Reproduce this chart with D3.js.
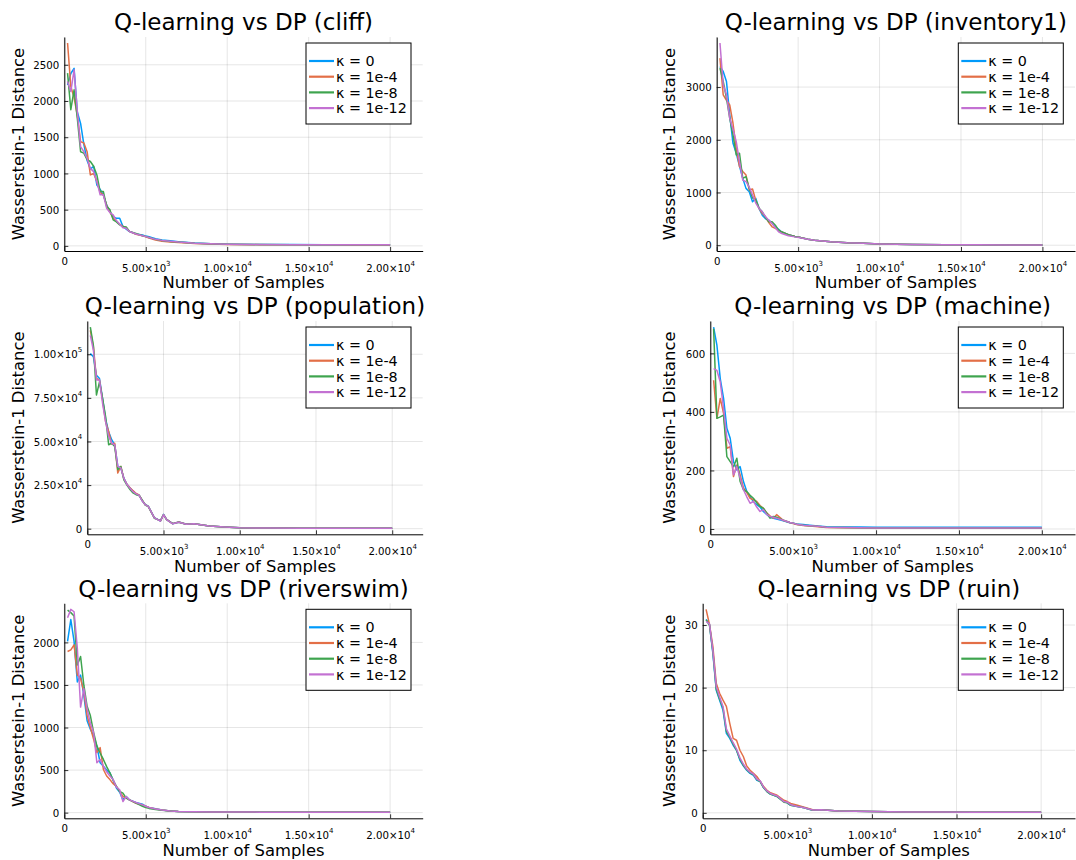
<!DOCTYPE html>
<html>
<head>
<meta charset="utf-8">
<script src="https://cdn.jsdelivr.net/npm/d3@7"></script>
<style>
  body { margin: 0; background: #fff; }
  svg { display: block; }
  text { font-family: "DejaVu Sans", sans-serif; fill: #000; }
</style>
</head>
<body>
<div id="chart"></div>
<script>
// Sample counts (x values shared by every run)
const samples = [200, 400, 600, 800, 1000, 1200, 1400, 1600, 1800, 2000,
  2200, 2400, 2600, 2800, 3000, 3200, 3400, 3600, 3800, 4000,
  4400, 4800, 5000, 5200, 5600, 6000, 6500, 7000, 8000, 9000,
  10000, 12000, 14000, 16000, 18000, 20000];

const kappaLabels = ["κ = 0", "κ = 1e-4", "κ = 1e-8", "κ = 1e-12"];
const xTicks = [0, 5000, 10000, 15000, 20000];

// cliff
const cliff_k0 = [2220, 2380, 2450, 1850, 1690, 1400, 1180, 1060, 1100, 840, 780, 700, 566, 470, 405, 380, 382, 267, 230, 198,
  165, 150, 135, 125, 100, 83, 70, 58, 40, 30, 24, 20, 18, 16, 15, 15];
const cliff_k4 = [2800, 2200, 2050, 1800, 1440, 1420, 1300, 980, 1000, 890, 740, 700, 560, 470, 380, 340, 300, 270, 250, 200,
  160, 140, 125, 110, 80, 65, 55, 45, 32, 25, 20, 17, 15, 14, 13, 13];
const cliff_k8 = [2385, 1880, 2155, 1760, 1300, 1280, 1190, 1165, 1100, 980, 750, 750, 543, 500, 359, 330, 290, 267, 260, 200,
  170, 140, 128, 115, 90, 75, 62, 52, 36, 28, 22, 18, 16, 15, 14, 14];
const cliff_k12 = [2270, 2130, 2430, 1855, 1370, 1300, 1210, 1070, 1025, 890, 705, 705, 520, 460, 428, 350, 300, 250, 244, 198,
  165, 140, 128, 115, 90, 76, 63, 52, 36, 28, 22, 18, 16, 15, 14, 14];
const cliffTicks = [0, 500, 1000, 1500, 2000, 2500];

// inventory1
const inv_k0 = [3390, 3297, 3106, 2473, 1934, 1744, 1500, 1268, 1078, 1014, 824, 888, 700, 570, 500, 475, 420, 349, 300, 250,
  200, 165, 155, 140, 115, 95, 80, 65, 45, 35, 25, 15, 10, 8, 6, 5];
const inv_k4 = [3550, 2853, 2750, 2663, 2314, 1838, 1490, 1400, 1331, 1046, 1065, 850, 697, 600, 539, 430, 349, 320, 285, 250,
  200, 165, 155, 140, 115, 95, 80, 65, 45, 35, 25, 15, 10, 8, 6, 5];
const inv_k8 = [3360, 3106, 2790, 2409, 2092, 1712, 1744, 1268, 1300, 1078, 900, 856, 700, 634, 520, 444, 444, 380, 285, 250,
  200, 165, 155, 140, 115, 95, 80, 65, 45, 35, 25, 15, 10, 8, 6, 5];
const inv_k12 = [3835, 3043, 2853, 2409, 2200, 1965, 1585, 1236, 1205, 1100, 951, 800, 697, 634, 540, 475, 412, 330, 254, 222,
  180, 158, 150, 135, 112, 95, 80, 65, 45, 35, 25, 15, 10, 8, 6, 5];
const invTicks = [0, 1000, 2000, 3000];

// population
const pop_k0 = [100400, 98500, 88000, 86100, 74700, 63000, 55500, 51000, 48100, 35700, 34800, 29000, 25500, 23400, 21500, 20000, 19200, 16000, 13900, 12900,
  6300, 4400, 8200, 5300, 2850, 3800, 2500, 2850, 1500, 950, 570, 350, 300, 280, 260, 250];
const pop_k4 = [113700, 104200, 86100, 85200, 73800, 61400, 55700, 48500, 49000, 31900, 35700, 28500, 25500, 23500, 21800, 20200, 19300, 16200, 13800, 12800,
  6200, 4500, 8100, 5300, 2900, 3800, 2500, 2850, 1500, 950, 570, 350, 300, 280, 260, 250];
const pop_k8 = [115600, 105000, 76600, 84200, 74700, 64200, 48100, 49000, 47100, 33800, 35700, 28000, 25000, 22500, 20500, 19500, 19000, 16500, 13500, 12700,
  6000, 4600, 8000, 5200, 2900, 3700, 2500, 2800, 1500, 950, 570, 350, 300, 280, 260, 250];
const pop_k12 = [110800, 102300, 85200, 85200, 71900, 61400, 52900, 49000, 48100, 35700, 34800, 28800, 25300, 23200, 21200, 20000, 19100, 16000, 13700, 12800,
  6200, 4400, 8000, 5200, 2800, 3700, 2500, 2800, 1500, 950, 570, 350, 300, 280, 260, 250];
const popTicks = [0, 25000, 50000, 75000, 100000];

// machine
const mach_k0 = [690, 627, 514, 446, 344, 310, 230, 202, 213, 162, 128, 110, 94, 83, 75, 60, 50, 40, 37, 34,
  28, 21, 20, 17, 15, 13, 10, 8, 7, 6.5, 6, 6, 6, 6, 6, 6];
const mach_k4 = [508, 378, 446, 395, 276, 281, 179, 219, 185, 140, 125, 105, 100, 94, 80, 71, 55, 45, 37, 49,
  30, 22, 19, 15, 12, 10, 8, 5, 4, 3, 2.5, 2.5, 2.5, 2.5, 2.5, 2.5];
const mach_k8 = [684, 378, 383, 389, 247, 230, 213, 242, 162, 134, 128, 115, 105, 90, 77, 71, 55, 37, 43, 40,
  30, 22, 20, 16, 13, 11, 9, 6, 5, 4, 3.5, 3.5, 3.5, 3.5, 3.5, 3.5];
const mach_k12 = [548, 542, 502, 412, 310, 287, 185, 213, 174, 134, 110, 88, 94, 75, 60, 66, 50, 43, 40, 37,
  30, 22, 20, 16, 13, 11, 9, 6, 5, 4, 3.5, 3.5, 3.5, 3.5, 3.5, 3.5];
const machTicks = [0, 200, 400, 600];

// riverswim
const river_k0 = [2012, 2269, 2012, 1536, 1616, 1378, 1081, 980, 900, 780, 586, 546, 500, 467, 380, 289, 240, 150, 190, 150,
  120, 100, 75, 60, 45, 30, 20, 14, 10, 8, 7, 6, 5, 5, 5, 5];
const river_k4 = [1893, 1913, 1972, 1616, 1576, 1418, 1140, 1000, 863, 705, 764, 507, 430, 388, 340, 309, 250, 190, 170, 150,
  110, 90, 75, 60, 42, 30, 20, 14, 10, 8, 7, 6, 5, 5, 5, 5];
const river_k8 = [2380, 2350, 2310, 1734, 1834, 1497, 1250, 1140, 942, 784, 700, 625, 540, 467, 380, 309, 250, 230, 170, 150,
  111, 75, 60, 50, 38, 28, 20, 14, 10, 8, 7, 6, 5, 5, 5, 5];
const river_k12 = [2289, 2388, 2360, 1932, 1240, 1457, 1220, 1050, 942, 586, 625, 546, 480, 430, 388, 300, 269, 131, 190, 150,
  120, 91, 75, 60, 42, 30, 20, 14, 10, 8, 7, 6, 5, 5, 5, 5];
const riverTicks = [0, 500, 1000, 1500, 2000];

// ruin
const ruin_k0 = [30.9, 30.1, 25.5, 19.6, 18.0, 16.4, 12.7, 11.9, 10.8, 10.0, 8.4, 7.5, 6.8, 6.3, 6.0, 5.2, 5.0, 4.0, 3.4, 3.0,
  2.6, 1.8, 1.6, 1.2, 1.0, 0.8, 0.4, 0.5, 0.3, 0.25, 0.2, 0.15, 0.12, 0.1, 0.1, 0.1];
const ruin_k4 = [32.5, 30.1, 26.6, 20.7, 19.1, 18.0, 17.0, 14.3, 11.9, 11.6, 10.0, 9.0, 7.5, 6.8, 6.3, 5.8, 5.0, 4.2, 3.6, 3.2,
  2.8, 2.0, 1.8, 1.5, 1.2, 0.9, 0.5, 0.5, 0.3, 0.25, 0.2, 0.15, 0.12, 0.1, 0.1, 0.1];
const ruin_k8 = [30.8, 30.0, 25.8, 19.8, 18.2, 16.8, 13.0, 12.1, 11.0, 10.0, 8.6, 7.6, 6.9, 6.4, 6.1, 5.3, 5.0, 4.0, 3.4, 3.0,
  2.6, 1.7, 1.6, 1.2, 1.0, 0.8, 0.4, 0.5, 0.3, 0.25, 0.2, 0.15, 0.12, 0.1, 0.1, 0.1];
const ruin_k12 = [30.6, 30.2, 26.0, 20.2, 18.5, 17.0, 13.4, 12.3, 11.2, 10.2, 8.8, 7.8, 7.0, 6.5, 6.2, 5.4, 5.1, 4.1, 3.5, 3.1,
  2.7, 1.8, 1.7, 1.3, 1.0, 0.8, 0.45, 0.5, 0.3, 0.25, 0.2, 0.15, 0.12, 0.1, 0.1, 0.1];
const ruinTicks = [0, 10, 20, 30];

// Plots.jl default palette
const colors = ["#009AFA", "#E36F47", "#3EA44E", "#C371D2"];

const width = 1076, height = 860;
const xDomain = [0, 22000];

const svg = d3.select("#chart")
  .append("svg")
  .attr("width", width)
  .attr("height", height);

// panel frames (plot area edges) and y-label column
const panels = [
  { title: "Q-learning vs DP (cliff)", series: [cliff_k0, cliff_k4, cliff_k8, cliff_k12], yTicks: cliffTicks, sci: false,
    left: 64.3, right: 422.7, top: 37, bottom: 251, labelX: 18 },
  { title: "Q-learning vs DP (inventory1)", series: [inv_k0, inv_k4, inv_k8, inv_k12], yTicks: invTicks, sci: false,
    left: 716.7, right: 1075, top: 37, bottom: 251, labelX: 669 },
  { title: "Q-learning vs DP (population)", series: [pop_k0, pop_k4, pop_k8, pop_k12], yTicks: popTicks, sci: true,
    left: 87.3, right: 422.7, top: 321, bottom: 534.3, labelX: 18 },
  { title: "Q-learning vs DP (machine)", series: [mach_k0, mach_k4, mach_k8, mach_k12], yTicks: machTicks, sci: false,
    left: 710.3, right: 1075, top: 321, bottom: 534.3, labelX: 669 },
  { title: "Q-learning vs DP (riverswim)", series: [river_k0, river_k4, river_k8, river_k12], yTicks: riverTicks, sci: false,
    left: 64.3, right: 422.7, top: 603.3, bottom: 818.3, labelX: 18 },
  { title: "Q-learning vs DP (ruin)", series: [ruin_k0, ruin_k4, ruin_k8, ruin_k12], yTicks: ruinTicks, sci: false,
    left: 702.7, right: 1075, top: 603.3, bottom: 818.3, labelX: 669 }
];

// write "m.mm×10^e" with a raised exponent
function setTickText(sel, v, sci) {
  sel.text(null);
  if (v === 0 || !sci) {
    sel.text(v === 0 ? "0" : String(v));
    return;
  }
  const e = Math.floor(Math.log10(Math.abs(v)));
  const m = (v / Math.pow(10, e)).toFixed(2);
  sel.append("tspan").text(m + "×10");
  sel.append("tspan").attr("font-size", 7).attr("dy", -6.2).text(e);
}

panels.forEach(p => {
  const g = svg.append("g");

  const x = d3.scaleLinear().domain(xDomain).range([p.left, p.right]);

  // auto-widen 3% like Plots.jl
  const all = p.series.flat();
  const lo = d3.min(all), hi = d3.max(all);
  const pad = (hi - lo) * 0.03;
  const y = d3.scaleLinear().domain([lo - pad, hi + pad]).range([p.bottom, p.top]);

  // Grid lines
  g.append("g").selectAll("line")
    .data(xTicks)
    .join("line")
    .attr("x1", d => x(d)).attr("x2", d => x(d))
    .attr("y1", p.top).attr("y2", p.bottom)
    .attr("stroke", "#000").attr("stroke-opacity", 0.1).attr("stroke-width", 1);

  g.append("g").selectAll("line")
    .data(p.yTicks)
    .join("line")
    .attr("x1", p.left).attr("x2", p.right)
    .attr("y1", d => y(d)).attr("y2", d => y(d))
    .attr("stroke", "#000").attr("stroke-opacity", 0.1).attr("stroke-width", 1);

  // Series lines
  const line = d3.line()
    .x((d, i) => x(samples[i]))
    .y(d => y(d));

  g.append("g").selectAll("path")
    .data(p.series)
    .join("path")
    .attr("d", line)
    .attr("fill", "none")
    .attr("stroke", (d, i) => colors[i])
    .attr("stroke-width", 1.5)
    .attr("stroke-linejoin", "round");

  // X axis
  const xAxis = g.append("g")
    .attr("transform", `translate(0,${p.bottom})`)
    .call(d3.axisBottom(x).tickValues(xTicks).tickSize(-4).tickSizeOuter(0).tickPadding(0))
    .attr("font-family", "DejaVu Sans")
    .attr("font-size", 10.2);
  xAxis.select(".domain").attr("stroke", "#000").attr("stroke-width", 1);
  xAxis.selectAll(".tick line").attr("stroke", "#000").attr("stroke-width", 0.8);
  xAxis.selectAll(".tick text")
    .attr("dy", null)
    .attr("y", d => d === 0 ? 13.7 : 21)
    .each(function (d) { setTickText(d3.select(this), d, true); });

  // Y axis
  const yAxis = g.append("g")
    .attr("transform", `translate(${p.left},0)`)
    .call(d3.axisLeft(y).tickValues(p.yTicks).tickSize(-4).tickSizeOuter(0).tickPadding(5))
    .attr("font-family", "DejaVu Sans")
    .attr("font-size", 10.2);
  yAxis.select(".domain").attr("stroke", "#000").attr("stroke-width", 1);
  yAxis.selectAll(".tick line").attr("stroke", "#000").attr("stroke-width", 0.8);
  yAxis.selectAll(".tick text")
    .attr("dy", "0.36em")
    .each(function (d) { setTickText(d3.select(this), d, p.sci); });

  // Title and axis labels
  g.append("text")
    .attr("x", (p.left + p.right) / 2)
    .attr("y", p.top - 15)
    .attr("dy", "0.36em")
    .attr("text-anchor", "middle")
    .style("font-size", "23px")
    .text(p.title);

  g.append("text")
    .attr("x", (p.left + p.right) / 2)
    .attr("y", p.bottom + 31.5)
    .attr("dy", "0.36em")
    .attr("text-anchor", "middle")
    .style("font-size", "16.4px")
    .text("Number of Samples");

  g.append("text")
    .attr("transform", `translate(${p.labelX},${(p.top + p.bottom) / 2}) rotate(-90)`)
    .attr("dy", "0.36em")
    .attr("text-anchor", "middle")
    .style("font-size", "16.4px")
    .text("Wasserstein-1 Distance");

  // Legend
  const boxW = 105, boxH = 81;
  const bx = p.right - 11.7 - boxW, by = p.top + 6;
  const legend = g.append("g");
  legend.append("rect")
    .attr("x", bx).attr("y", by)
    .attr("width", boxW).attr("height", boxH)
    .attr("fill", "#fff").attr("stroke", "#000").attr("stroke-width", 1);

  const items = legend.selectAll(".item")
    .data(kappaLabels)
    .join("g")
    .attr("class", "item")
    .attr("transform", (d, i) => `translate(${bx},${by + 18 + i * 15.7})`);
  items.append("line")
    .attr("x1", 3).attr("x2", 28)
    .attr("stroke", (d, i) => colors[i])
    .attr("stroke-width", 2.2);
  items.append("text")
    .attr("x", 30)
    .attr("dy", "0.36em")
    .style("font-size", "14.3px")
    .text(d => d);
});
</script>
</body>
</html>
